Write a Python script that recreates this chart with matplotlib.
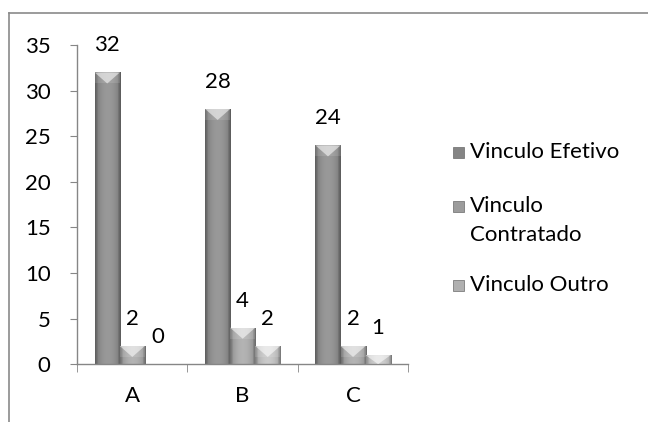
import numpy as np
import matplotlib.pyplot as plt
from matplotlib.patches import Rectangle, Polygon
from matplotlib.lines import Line2D
from matplotlib.colors import to_rgb

# Data
categories = ["A", "B", "C"]
efetivo = [32, 28, 24]
contratado = [2, 4, 2]
outro = [0, 2, 1]
series_names = ["Vinculo Efetivo", "Vinculo\nContratado", "Vinculo Outro"]
series_values = [efetivo, contratado, outro]

colors = ["#858585", "#9c9c9c", "#b0b0b0"]

plt.rcParams["font.family"] = ["Lato", "DejaVu Sans"]
FS = 16

fig = plt.figure(figsize=(6.48, 4.22), dpi=100)
ax = fig.add_axes([0.119, 0.137, 0.511, 0.756])

x = np.arange(len(categories))
width = 0.227
ax.set_xlim(-0.5, 2.5)
ax.set_ylim(0, 35)

# px -> data units for the bevel cap
ax_h = ax.get_window_extent().height
dy_px = 35 / ax_h


def shade(color, n=40):
    r, g, b = to_rgb(color)
    t = np.linspace(0, 1, n)
    f = 0.8 + 0.35 * np.sin(np.pi * t) ** 0.6
    f[: n // 10] *= 0.88
    f[-n // 10:] *= 0.85
    arr = np.stack([np.clip(r * f, 0, 1), np.clip(g * f, 0, 1), np.clip(b * f, 0, 1)], axis=-1)
    return arr[np.newaxis, :, :]


for i, (vals, c) in enumerate(zip(series_values, colors)):
    bars = ax.bar(x + (i - 1) * width, vals, width, color=c, edgecolor="none", zorder=2)
    for bar, v in zip(bars, vals):
        x0, w, h = bar.get_x(), bar.get_width(), bar.get_height()
        if h > 0:
            im = ax.imshow(shade(c), extent=(x0, x0 + w, 0, h), aspect="auto", zorder=2.5)
            im.set_clip_path(bar)
            cap = min(11 * dy_px, h)
            ax.add_patch(Polygon([(x0, h), (x0 + w, h), (x0 + w * 0.5, h - cap)],
                                 closed=True, facecolor="white", alpha=0.55,
                                 edgecolor="none", zorder=3))
            ax.add_patch(Rectangle((x0, h - cap), w, cap, facecolor="white", alpha=0.12,
                                   edgecolor="none", zorder=3))
        ax.annotate(str(v), (x0 + w / 2, h), xytext=(0, 27), textcoords="offset pixels",
                    ha="center", va="center", fontsize=FS, color="black")

ax.set_aspect("auto")
ax.set_xlim(-0.5, 2.5)
ax.set_ylim(0, 35)

# Axes styling
for side in ["top", "right"]:
    ax.spines[side].set_visible(False)
for side in ["left", "bottom"]:
    ax.spines[side].set_color("#868686")
    ax.spines[side].set_linewidth(1.0)

ax.set_yticks(np.arange(0, 36, 5))
ax.tick_params(axis="y", direction="out", length=5, color="#868686", labelsize=FS, pad=14)
ax.set_xticks(x)
ax.set_xticklabels(categories)
ax.tick_params(axis="x", which="major", length=0, labelsize=FS, pad=16)
ax.set_xticks([-0.5, 0.5, 1.5, 2.5], minor=True)
ax.tick_params(axis="x", which="minor", direction="out", length=6, color="#868686")

# Legend (drawn by hand to match the layout)
leg_y = [152, 206, 285]
for name, c, yp in zip(series_names, colors, leg_y):
    yf = 1 - yp / 422
    fig.patches.append(Rectangle((453 / 648, yf - 5.5 / 422), 11 / 648, 11 / 422,
                                 transform=fig.transFigure, facecolor=c,
                                 edgecolor="#6a6a6a", linewidth=0.5))
    fig.text(470 / 648, yf + 10 / 422, name, ha="left", va="top", fontsize=FS,
             linespacing=1.55)

# Chart frame (cropped)
fig.add_artist(Line2D([9 / 648, 9 / 648], [0, 1 - 13 / 422], transform=fig.transFigure,
                      color="#8a8a8a", linewidth=1.2))
fig.add_artist(Line2D([9 / 648, 1], [1 - 13 / 422, 1 - 13 / 422], transform=fig.transFigure,
                      color="#8a8a8a", linewidth=1.2))

fig.savefig("out.png", dpi=100)
